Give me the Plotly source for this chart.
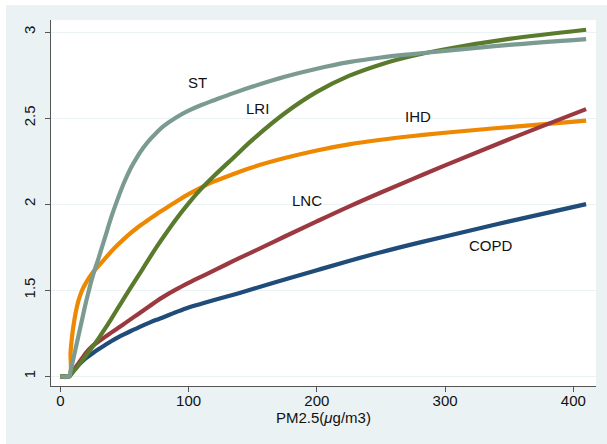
import plotly.graph_objects as go

# ---- data ----
pm25 = [0, 7, 8, 9, 10, 12, 14, 17, 20, 25, 30, 35, 40, 45, 50, 55, 60, 65, 70, 75, 80,
        90, 100, 110, 120, 135, 150, 175, 200, 225, 250, 275, 300, 350, 410]

copd = [1, 1, 1.012, 1.023, 1.033, 1.05, 1.064, 1.085, 1.105, 1.132, 1.158, 1.182, 1.205,
        1.226, 1.245, 1.263, 1.28, 1.297, 1.313, 1.328, 1.342, 1.372, 1.40, 1.422, 1.443,
        1.474, 1.507, 1.562, 1.616, 1.67, 1.721, 1.768, 1.812, 1.9, 2.0]

lnc = [1, 1, 1.011, 1.022, 1.032, 1.053, 1.073, 1.105, 1.136, 1.175, 1.203, 1.229, 1.255,
       1.28, 1.306, 1.332, 1.358, 1.384, 1.41, 1.436, 1.46, 1.503, 1.542, 1.579, 1.615,
       1.67, 1.723, 1.812, 1.9, 1.986, 2.068, 2.147, 2.225, 2.377, 2.552]

lri = [1, 1, 1.007, 1.015, 1.025, 1.043, 1.061, 1.09, 1.12, 1.17, 1.222, 1.278, 1.337,
       1.397, 1.457, 1.516, 1.574, 1.633, 1.692, 1.75, 1.805, 1.91, 2.005, 2.09, 2.165,
       2.27, 2.375, 2.528, 2.652, 2.745, 2.812, 2.862, 2.9, 2.96, 3.013]

ihd = [1, 1, 1.14, 1.22, 1.28, 1.37, 1.435, 1.50, 1.543, 1.60, 1.643, 1.685, 1.727,
       1.765, 1.80, 1.833, 1.863, 1.89, 1.916, 1.942, 1.966, 2.013, 2.058, 2.098, 2.132,
       2.175, 2.215, 2.268, 2.312, 2.347, 2.374, 2.396, 2.415, 2.448, 2.485]

st = [1, 1, 1.03, 1.063, 1.096, 1.163, 1.23, 1.33, 1.43, 1.575, 1.69, 1.81, 1.93,
      2.035, 2.13, 2.21, 2.275, 2.33, 2.376, 2.415, 2.45, 2.502, 2.543, 2.576, 2.604,
      2.645, 2.683, 2.74, 2.787, 2.825, 2.852, 2.872, 2.89, 2.925, 2.959]

labels = ["ST", "LRI", "IHD", "LNC", "COPD"]
label_x = [106.8, 154.0, 279.0, 192.6, 335.6]
label_y = [2.706, 2.553, 2.509, 2.019, 1.759]

y_ticks = [1, 1.5, 2, 2.5, 3]
y_tick_text = ["1", "1.5", "2", "2.5", "3"]
x_ticks = [0, 100, 200, 300, 400]
x_title = "PM2.5(<i>μ</i>g/m3)"

# draw order: bottom to top
series = [
    ("COPD", copd, "#1F4C78"),
    ("IHD", ihd, "#EE8800"),
    ("LNC", lnc, "#9C3940"),
    ("LRI", lri, "#5A7A2C"),
    ("ST", st, "#7A9A92"),
]

fig = go.Figure()
for name, vals, col in series:
    fig.add_trace(go.Scatter(
        x=pm25, y=vals, mode="lines", name=name,
        line=dict(color=col, width=4.2, shape="spline", smoothing=1.0),
        showlegend=False, hoverinfo="skip"))

for t, xx, yy in zip(labels, label_x, label_y):
    fig.add_annotation(x=xx, y=yy, text=t, showarrow=False,
                       font=dict(family="Liberation Sans, Arial", size=15, color="#111"))

# x-axis title
fig.add_annotation(xref="paper", yref="paper", x=0.5, y=-0.0874, yanchor="middle",
                   text=x_title, showarrow=False,
                   font=dict(family="Liberation Sans, Arial", size=15, color="#111"))

# thin white slivers at the top and left edge of the page
fig.add_shape(type="rect", xref="paper", yref="paper", layer="above",
              x0=-0.1, x1=-0.0826, y0=-0.2, y1=1.1,
              fillcolor="white", line=dict(width=0))
fig.add_shape(type="rect", xref="paper", yref="paper", layer="above",
              x0=-0.1, x1=1.1, y0=1.041, y1=1.1,
              fillcolor="white", line=dict(width=0))

fig.update_layout(
    width=607, height=444,
    margin=dict(l=51, r=11, t=20, b=58),
    paper_bgcolor="#EAF2F3", plot_bgcolor="white",
    font=dict(family="Liberation Sans, Arial", size=15, color="#111"),
    xaxis=dict(range=[-7.25, 417.7], tickvals=x_ticks, showgrid=False, zeroline=False,
               automargin=False,
               showline=True, linecolor="#555", linewidth=1.2,
               ticks="outside", ticklen=5, tickcolor="#555", tickwidth=1.2,
               ticklabelstandoff=-4,
               tickfont=dict(size=15)),
    yaxis=dict(range=[0.9436, 3.0698], tickvals=y_ticks, ticktext=y_tick_text,
               automargin=False,
               showgrid=True, gridcolor="#EAF2F3", gridwidth=1, zeroline=False,
               showline=True, linecolor="#555", linewidth=1.2,
               ticks="outside", ticklen=5, tickcolor="#555", tickwidth=1.2,
               ticklabelstandoff=4,
               tickangle=-90, tickfont=dict(size=15)),
)

fig.write_html("out.html", config={"displayModeBar": False},
               post_script="document.body.style.margin='0px';document.body.style.overflow='hidden';")
